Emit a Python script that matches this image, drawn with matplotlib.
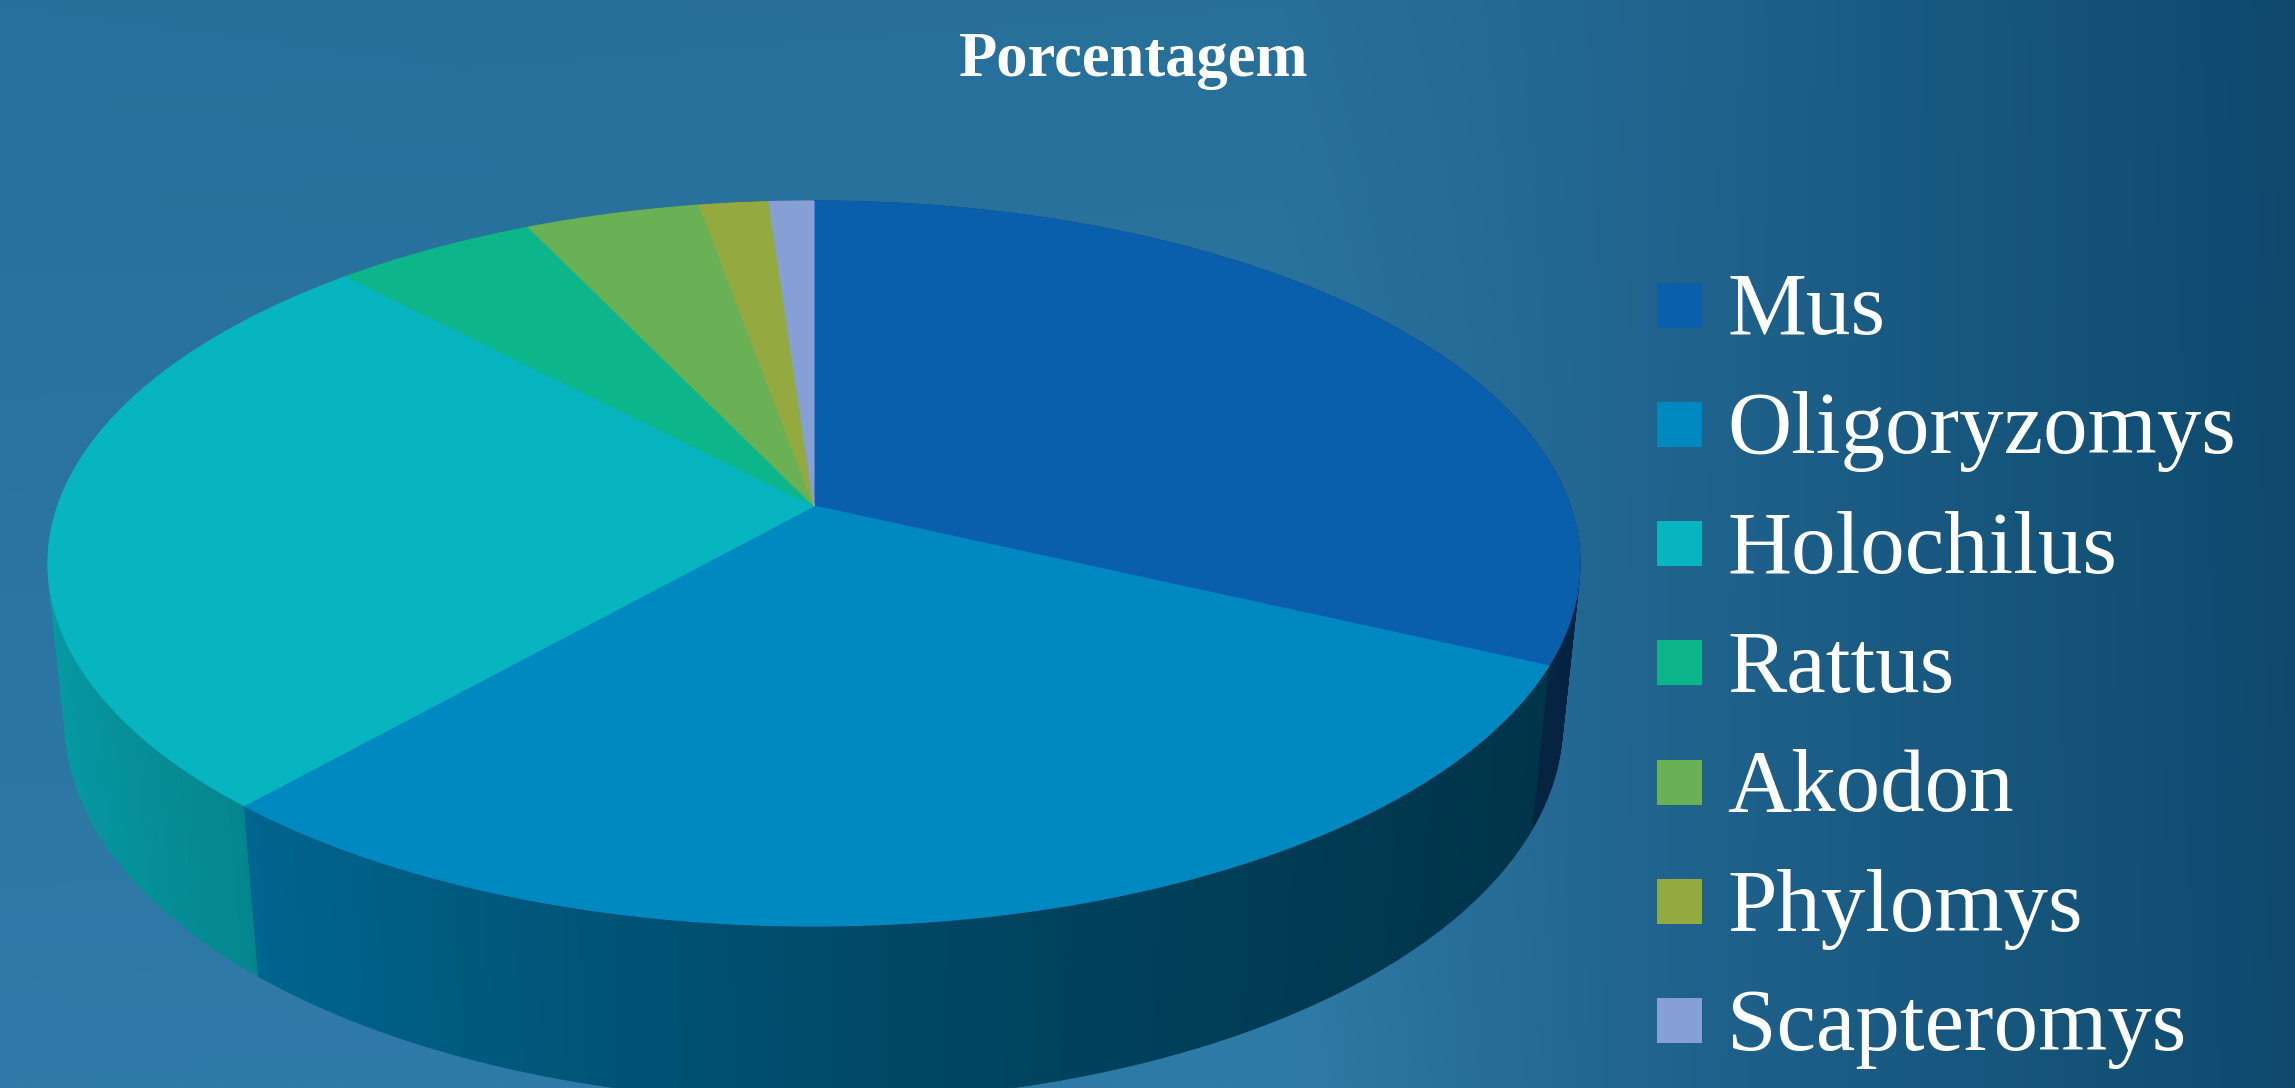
import numpy as np
import matplotlib
matplotlib.use("Agg")
import matplotlib.pyplot as plt
from matplotlib.patches import Polygon, Rectangle
from matplotlib.colors import to_rgb
from matplotlib.transforms import Transform, Affine2D
from matplotlib.path import Path

# ---------------- data ----------------
categories = ["Mus", "Oligoryzomys", "Holochilus", "Rattus", "Akodon", "Phylomys", "Scapteromys"]
values = [31.9, 29.6, 26.3, 5.0, 4.3, 1.7, 1.1]
colors = ["#0a5fad", "#0089c1", "#07b5c0", "#0db58a", "#6ab156", "#94aa40", "#86a0d6"]
title = "Porcentagem"

# ---------------- layout (pixels) ----------------
W, H = 2295, 1088
CX, CY = 814.0, 506.0          # projected centre of the top face
A, B, K = 756.3, 353.4, 0.1586  # perspective of the top face
M_BOT, H_BOT = 0.0226, 161.0    # extra depth / drop of the bottom face


class Perspective(Transform):
    """Projective map from the pie's own unit-disc coordinates to pixels."""
    input_dims = 2
    output_dims = 2
    is_separable = False
    has_inverse = False

    def __init__(self, m=0.0, h=0.0):
        super().__init__()
        self.m, self.h = m, h

    def transform_non_affine(self, xy):
        xy = np.asarray(xy, dtype=float)
        u, v = xy[:, 0], xy[:, 1]
        w = 1.0 + K * v + self.m
        return np.column_stack([CX + A * u / w, CY - (B * v - self.h) / w])

    def transform_path_non_affine(self, path):
        S = 2000.0
        polys = path.to_polygons(Affine2D().scale(S), closed_only=True)
        verts, codes = [], []
        for poly in polys:
            poly = np.asarray(poly) / S
            dense = [poly[0]]
            for p0, p1 in zip(poly[:-1], poly[1:]):
                n = max(1, int(np.hypot(*(p1 - p0)) / 0.01))
                t = np.linspace(0, 1, n + 1)[1:]
                dense.extend(p0 + (p1 - p0) * t[:, None])
            tv = self.transform_non_affine(np.array(dense))
            verts.append(tv)
            codes += [Path.MOVETO] + [Path.LINETO] * (len(tv) - 2) + [Path.CLOSEPOLY]
        return Path(np.concatenate(verts), codes)


top_proj = Perspective()
bot_proj = Perspective(M_BOT, H_BOT)

fig = plt.figure(figsize=(W / 100, H / 100), dpi=100)
ax = fig.add_axes([0, 0, 1, 1])


# ---------------- background gradient ----------------
def hexrgb(h):
    return np.array(to_rgb(h))


xs_stop = [0.0, 0.56, 0.72, 1.0]
top_stop = [hexrgb("#276f9c"), hexrgb("#27709a"), hexrgb("#21658f"), hexrgb("#0e496d")]
bot_stop = [hexrgb("#2f7aa8"), hexrgb("#2f7ba7"), hexrgb("#20648f"), hexrgb("#0f4a6e")]
nx, ny = 400, 100
gx = np.linspace(0, 1, nx)
gy = np.linspace(0, 1, ny)
top_row = np.stack([np.interp(gx, xs_stop, [c[k] for c in top_stop]) for k in range(3)], axis=-1)
bot_row = np.stack([np.interp(gx, xs_stop, [c[k] for c in bot_stop]) for k in range(3)], axis=-1)
img = top_row[None, :, :] * (1 - gy[:, None, None]) + bot_row[None, :, :] * gy[:, None, None]
ax.imshow(img, extent=(0, W, H, 0), origin="upper", aspect="auto",
          interpolation="bilinear", zorder=0)

# ---------------- side walls ----------------
total = float(sum(values))
bounds = np.concatenate([[0], np.cumsum(values)]) / total * 360.0


def shade(xn):
    return 0.55 - 0.246 * xn + 0.064 * xn ** 2


strips = []
for i, (a0, a1) in enumerate(zip(bounds[:-1], bounds[1:])):
    n = max(2, int((a1 - a0) / 0.5))
    ts = np.radians(np.linspace(a0, a1, n + 1))
    base = hexrgb(colors[i])
    for r0, r1 in zip(ts[:-1], ts[1:]):
        uv = np.array([[np.sin(r0), np.cos(r0)], [np.sin(r1), np.cos(r1)]])
        top = top_proj.transform_non_affine(uv)
        bot = bot_proj.transform_non_affine(uv)
        pts = np.vstack([top, bot[::-1]])
        um = np.sin((r0 + r1) / 2)
        vm = np.cos((r0 + r1) / 2)
        c = np.clip(base * shade(um), 0, 1)
        strips.append((vm, pts, c))

# far strips first so that the front ones cover them
for vm, pts, c in sorted(strips, key=lambda s: -s[0]):
    ax.add_patch(Polygon(pts, closed=True, facecolor=c, edgecolor=c, linewidth=0.6, zorder=2))

# ---------------- top face ----------------
wedges, _ = ax.pie(values, colors=colors, startangle=90, counterclock=False,
                   radius=1, center=(0, 0), wedgeprops=dict(linewidth=0.8))
for w, c in zip(wedges, colors):
    w.set_transform(top_proj + ax.transData)
    w.set_edgecolor(c)
    w.set_zorder(5)
ax.set_aspect("auto")
ax.set_xlim(0, W)
ax.set_ylim(H, 0)
ax.axis("off")

# ---------------- title and legend ----------------
font = ["Liberation Serif", "DejaVu Serif"]
ax.text(1134, 76, title, ha="center", va="baseline", fontsize=45, fontweight="bold",
        color="white", family=font, zorder=10)

leg_x, leg_y0, leg_dy, sq = 1657, 305, 119.3, 45
for i, (lab, c) in enumerate(zip(categories, colors)):
    yc = leg_y0 + i * leg_dy
    ax.add_patch(Rectangle((leg_x, yc - sq / 2), sq, sq, facecolor=c, edgecolor="none", zorder=10))
    ax.text(leg_x + 70, yc + 29, lab, ha="left", va="baseline", fontsize=64,
            color="white", family=font, zorder=10)

fig.savefig("out.png", dpi=100)
